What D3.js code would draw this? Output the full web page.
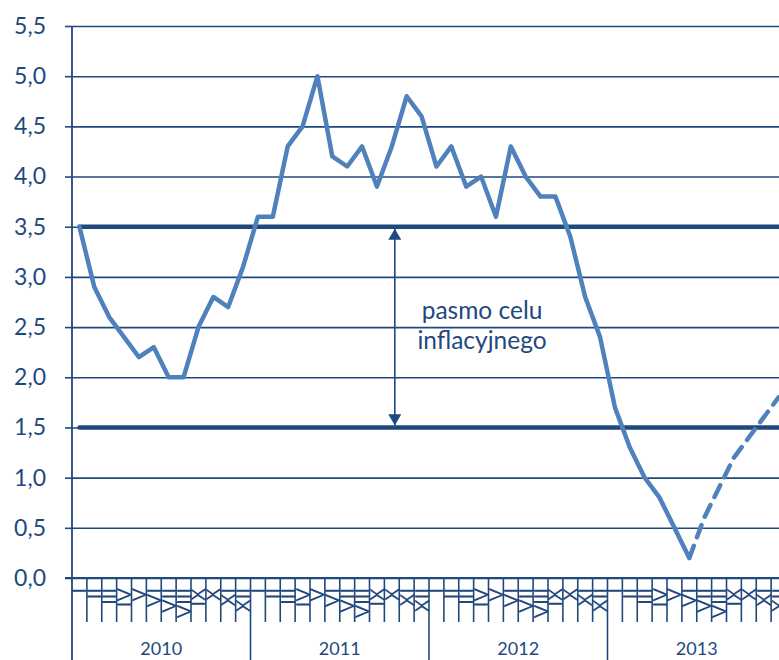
<!DOCTYPE html>
<html>
<head>
<meta charset="utf-8">
<script src="https://cdn.jsdelivr.net/npm/d3@7"></script>
<style>
  body { margin: 0; background: #fff; }
  svg { display: block; }
  text { font-family: Lato, "Open Sans", sans-serif; fill: #1f497d; }
</style>
</head>
<body>
<div class="container"></div>
<script>
// dane
const lata = ["2010", "2011", "2012", "2013"]
const miesiace = ["I", "II", "III", "IV", "V", "VI", "VII", "VIII", "IX", "X", "XI", "XII"]
const inflacja = [
    3.5, 2.9, 2.6, 2.4, 2.2, 2.3, 2.0, 2.0, 2.5, 2.8, 2.7, 3.1,
    3.6, 3.6, 4.3, 4.5, 5.0, 4.2, 4.1, 4.3, 3.9, 4.3, 4.8, 4.6,
    4.1, 4.3, 3.9, 4.0, 3.6, 4.3, 4.0, 3.8, 3.8, 3.4, 2.8, 2.4,
    1.7, 1.3, 1.0, 0.8, 0.5, 0.2
]
const prognoza = [0.2, 0.6, 0.9, 1.2, 1.4, 1.6, 1.8]   // od VI 2013
const yTicks = [0, 0.5, 1, 1.5, 2, 2.5, 3, 3.5, 4, 4.5, 5, 5.5]
const pasmoDol = 1.5
const pasmoGora = 3.5
const opisPasma = ["pasmo celu", "inflacyjnego"]

const ciemny = "#1f497d"
const niebieski = "#4f81bd"

const WIDTH = 779, HEIGHT = 660
const margin = { left: 72, top: 26, bottom: 82 }
const plotRight = margin.left + 4 * 178.5

const klucze = []
lata.forEach(r => miesiace.forEach(m => klucze.push(r + "-" + m)))

const x = d3.scaleBand().domain(klucze).range([margin.left, plotRight])
const y = d3.scaleLinear().domain([0, 5.5]).range([HEIGHT - margin.bottom, margin.top])
const xc = k => x(k) + x.bandwidth() / 2

const svg = d3.select(".container")
    .append("svg")
    .attr("width", WIDTH)
    .attr("height", HEIGHT)

// siatka + os Y
const siatka = svg.append("g")
    .attr("transform", `translate(${margin.left},0)`)
    .call(d3.axisLeft(y).tickValues(yTicks).tickSize(-(plotRight - margin.left)).tickFormat(""))
siatka.select(".domain").remove()
siatka.selectAll("line").attr("stroke", ciemny).attr("stroke-width", 1.6)

const osY = svg.append("g")
    .attr("transform", `translate(${margin.left},0)`)
    .call(d3.axisLeft(y).tickValues(yTicks).tickSize(7).tickPadding(19)
        .tickFormat(d => d3.format(".1f")(d).replace(".", ",")))
osY.select(".domain").remove()
osY.selectAll("line").attr("stroke", ciemny).attr("stroke-width", 1.6)
osY.selectAll("text")
    .style("font-family", "Lato, sans-serif")
    .style("font-size", "23px")
    .attr("fill", ciemny)

svg.append("line")
    .attr("x1", margin.left).attr("x2", margin.left)
    .attr("y1", y(5.5)).attr("y2", HEIGHT)
    .attr("stroke", ciemny).attr("stroke-width", 1.8)

// os X: miesiace i lata
const dol = svg.append("g").attr("class", "osx")
const y0 = y(0)
dol.append("line")
    .attr("x1", margin.left - 7).attr("x2", plotRight)
    .attr("y1", y0).attr("y2", y0)
    .attr("stroke", ciemny).attr("stroke-width", 1.8)

dol.selectAll(".kreska")
    .data(klucze)
    .join("line")
    .attr("class", "kreska")
    .attr("x1", d => x(d) + x.bandwidth()).attr("x2", d => x(d) + x.bandwidth())
    .attr("y1", y0)
    .attr("y2", (d, i) => (i % 12 == 11) ? HEIGHT : y0 + 44)
    .attr("stroke", ciemny).attr("stroke-width", 1.6)

dol.selectAll(".mies")
    .data(klucze)
    .join("text")
    .attr("class", "mies")
    .attr("transform", d => `translate(${xc(d) + 7} ${y0 + 10}) rotate(-90)`)
    .attr("text-anchor", "end")
    .style("font-size", "20px")
    .text(d => d.split("-")[1])

dol.selectAll(".rok")
    .data(lata)
    .join("text")
    .attr("class", "rok")
    .attr("x", d => (x(d + "-I") + x(d + "-XII") + x.bandwidth()) / 2)
    .attr("y", HEIGHT - 5)
    .attr("text-anchor", "middle")
    .style("font-size", "18px")
    .text(d => d)

// pasmo celu
svg.selectAll(".pasmo")
    .data([pasmoGora, pasmoDol])
    .join("line")
    .attr("class", "pasmo")
    .attr("x1", xc(klucze[0])).attr("x2", plotRight)
    .attr("y1", d => y(d)).attr("y2", d => y(d))
    .attr("stroke", ciemny).attr("stroke-width", 4.5)
    .attr("stroke-linecap", "round")

// strzalka
const defs = svg.append("defs")
defs.append("marker")
    .attr("id", "grot")
    .attr("viewBox", "0 0 12 14")
    .attr("refX", 12).attr("refY", 7)
    .attr("markerWidth", 14).attr("markerHeight", 13)
    .attr("markerUnits", "userSpaceOnUse")
    .attr("orient", "auto-start-reverse")
    .append("path")
    .attr("d", "M0,0 L12,7 L0,14 Z")
    .attr("fill", ciemny)

const xStrz = xc("2011-X") + 3
svg.append("line")
    .attr("x1", xStrz).attr("x2", xStrz)
    .attr("y1", y(pasmoGora) + 2).attr("y2", y(pasmoDol) - 2)
    .attr("stroke", ciemny).attr("stroke-width", 1.6)
    .attr("marker-start", "url(#grot)")
    .attr("marker-end", "url(#grot)")

svg.selectAll(".opis")
    .data(opisPasma)
    .join("text")
    .attr("class", "opis")
    .attr("x", 482)
    .attr("y", (d, i) => 319 + i * 30)
    .attr("text-anchor", "middle")
    .style("font-size", "24.5px")
    .text(d => d)

// linie danych
const linia = d3.line()
    .x(d => xc(d[0]))
    .y(d => y(d[1]))

svg.append("path")
    .datum(inflacja.map((v, i) => [klucze[i], v]))
    .attr("d", linia)
    .attr("fill", "none")
    .attr("stroke", niebieski)
    .attr("stroke-width", 4.5)
    .attr("stroke-linejoin", "round")
    .attr("stroke-linecap", "round")

const start = inflacja.length - 1
svg.append("path")
    .datum(prognoza.map((v, i) => [klucze[start + i], v]))
    .attr("d", linia)
    .attr("fill", "none")
    .attr("stroke", niebieski)
    .attr("stroke-width", 4.5)
    .attr("stroke-dasharray", "13 9")
    .attr("stroke-linecap", "round")
</script>
</body>
</html>
